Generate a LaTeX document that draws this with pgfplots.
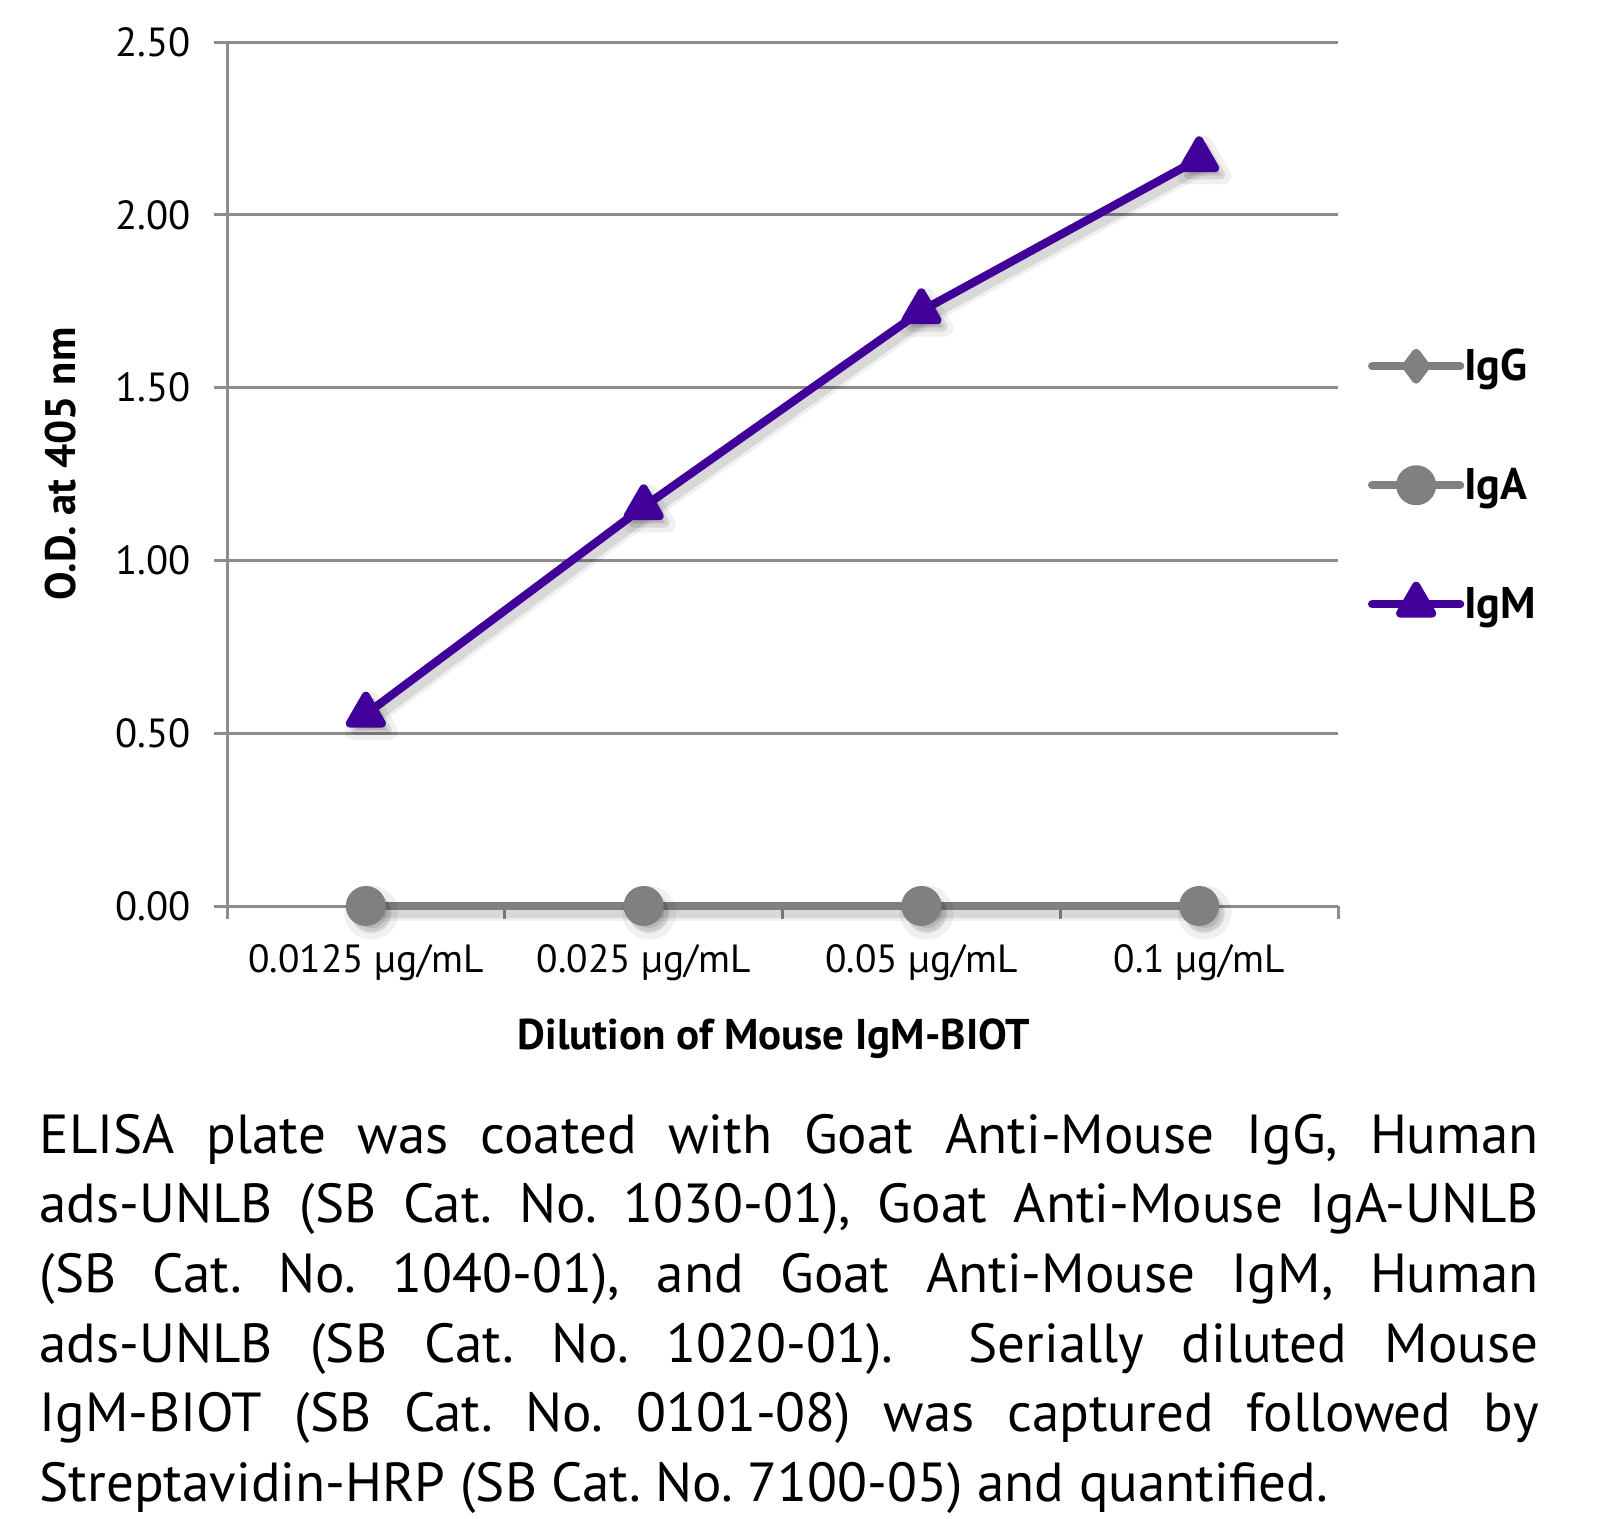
\documentclass[border=0pt]{standalone}
\usepackage{pgfplots}
\pgfplotsset{compat=1.18}
\usepackage{fontspec}
\setmainfont{PT Sans}
\definecolor{gridgray}{HTML}{8C8C8C}
\definecolor{sergray}{HTML}{808080}
\definecolor{igm}{HTML}{400099}
\pgfplotsset{
  shadow/.style={forget plot, black, line cap=round, line join=round, xshift=1.6pt, yshift=-2pt, mark options={solid, draw=none, fill=black}},
}
\begin{document}
\begin{tikzpicture}
\useasboundingbox (0,0) rectangle (481.5pt,-455.4pt);
\begin{axis}[
  at={(68.1pt,-271.8pt)}, anchor=south west,
  scale only axis, width=333.3pt, height=259.2pt,
  xmin=-0.5, xmax=3.5, ymin=0, ymax=2.5,
  clip=false,
  axis lines*=left,
  axis line style={draw=gridgray, line width=0.9pt, -},
  xtick={0,1,2,3},
  xticklabels={0.0125 µg/mL, 0.025 µg/mL, 0.05 µg/mL, 0.1 µg/mL},
  minor xtick={-0.5,0.5,1.5,2.5,3.5},
  ytick={0,0.5,1,1.5,2,2.5},
  yticklabels={0.00,0.50,1.00,1.50,2.00,2.50},
  tick align=outside,
  major tick length=3.9pt, minor tick length=3.9pt,
  major x tick style={draw=none},
  every tick/.style={draw=gridgray, line width=0.9pt},
  minor x tick style={draw=gridgray, line width=0.9pt},
  major y tick style={draw=gridgray, line width=0.9pt},
  ymajorgrids,
  grid style={draw=gridgray, line width=0.9pt},
  yticklabel style={anchor=east, inner sep=0pt, xshift=-6.9pt, font=\fontsize{12.2}{14}\selectfont},
  xticklabel style={anchor=base, inner sep=0pt, yshift=-15.9pt, font=\fontsize{11.8}{14}\selectfont},
  xlabel={Dilution of Mouse IgM-BIOT},
  ylabel={O.D. at 405 nm},
  xlabel style={at={(axis description cs:0.4923,-0.166)}, anchor=base, inner sep=0pt, font=\bfseries\fontsize{12.9}{15}\selectfont},
  ylabel style={at={(axis description cs:-0.1494,0.5116)}, anchor=center, inner sep=0pt, font=\bfseries\fontsize{12.8}{15}\selectfont},
  legend image code/.code={%
    \path[draw=none, fill=none] (-1.25pt,-6pt) rectangle (27.65pt,6pt);
    \draw[mark repeat=2,mark phase=2,#1] plot coordinates {(0pt,0pt) (13.2pt,0pt) (26.4pt,0pt)};},
  legend style={at={(1.0264,0.487)}, anchor=west, draw=none, fill=none, inner sep=0pt,
    row sep=23.7pt, font=\bfseries\fontsize{13.3}{15}\selectfont,
    nodes={inner sep=0pt, text height=8.8pt, text depth=0pt},
    /tikz/every odd column/.style={column sep=0pt}},
  legend cell align=left,
]
% shadows
\addplot[shadow, opacity=0.06, line width=5pt, mark=*, mark size=5.6pt]
  coordinates {(0,0) (1,0) (2,0) (3,0)};
\addplot[shadow, opacity=0.10, line width=3pt, mark=*, mark size=4.6pt]
  coordinates {(0,0) (1,0) (2,0) (3,0)};
\addplot[shadow, opacity=0.06, line width=5pt, mark=triangle*, mark size=6.4pt]
  coordinates {(0,0.555) (1,1.155) (2,1.722) (3,2.162)};
\addplot[shadow, opacity=0.10, line width=3pt, mark=triangle*, mark size=5.4pt]
  coordinates {(0,0.555) (1,1.155) (2,1.722) (3,2.162)};
% data
\addplot[sergray, line width=2.5pt, line cap=round, line join=round, mark=diamond*, mark size=4pt, mark options={solid, fill=sergray}]
  coordinates {(0,0) (1,0) (2,0) (3,0)};
\addplot[sergray, line width=2.5pt, line cap=round, line join=round, mark=*, mark size=4.75pt, mark options={solid, fill=sergray}]
  coordinates {(0,0) (1,0) (2,0) (3,0)};
\addplot[igm, line width=2.5pt, line cap=round, line join=round, mark=triangle*, mark size=5.5pt, mark options={solid, fill=igm}]
  coordinates {(0,0.555) (1,1.155) (2,1.722) (3,2.162)};
\legend{IgG, IgA, IgM}
\end{axis}
\node[anchor=base west, inner sep=0pt] at (11.7pt,-345.9pt) {\parbox[t]{449.7pt}{%
\fontsize{16.5}{20.9}\selectfont\frenchspacing\hyphenpenalty=10000\exhyphenpenalty=10000\emergencystretch=2em
ELISA plate was coated with Goat Anti-Mouse IgG, Human\linebreak
ads-UNLB (SB Cat. No. 1030-01), Goat Anti-Mouse IgA-UNLB\linebreak
(SB Cat. No. 1040-01), and Goat Anti-Mouse IgM, Human\linebreak
ads-UNLB (SB Cat. No. 1020-01).\ \ Serially diluted Mouse\linebreak
IgM-BIOT (SB Cat. No. 0101-08) was captured followed by\linebreak
Streptavidin-HRP (SB Cat. No. 7100-05) and quantified.}};
\end{tikzpicture}
\end{document}
